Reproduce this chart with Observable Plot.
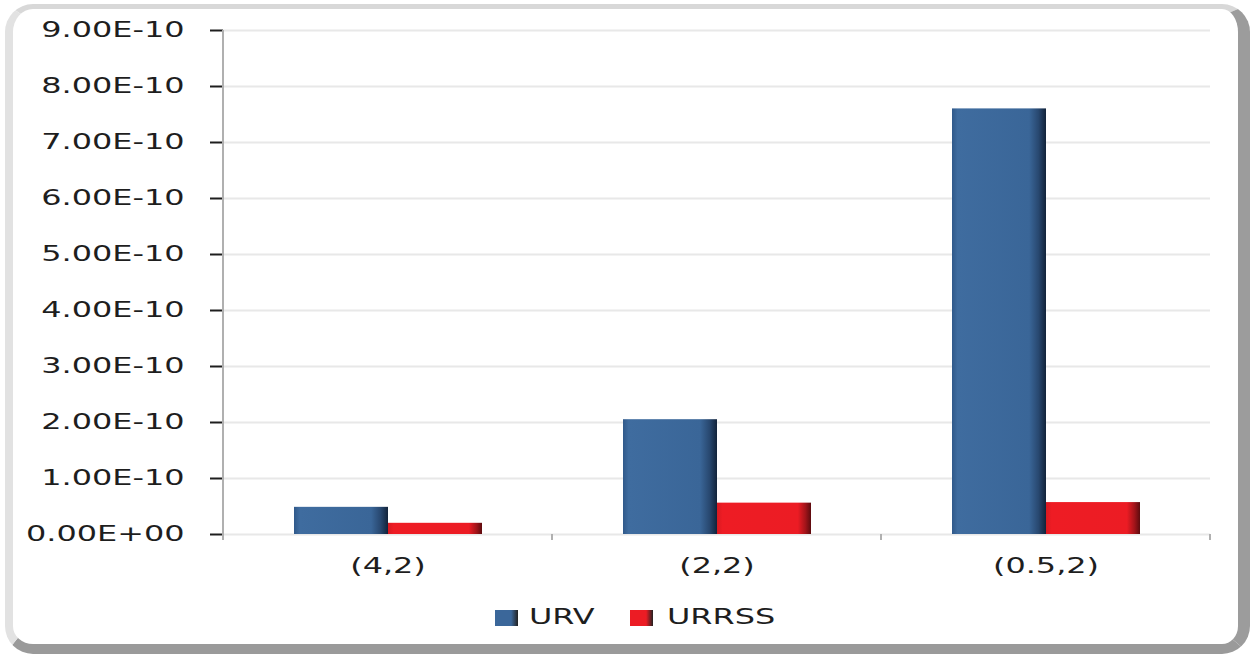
<!DOCTYPE html>
<html><head><meta charset="utf-8">
<script src="https://cdn.jsdelivr.net/npm/d3@7"></script>
<script src="https://cdn.jsdelivr.net/npm/@observablehq/plot@0.6"></script>
<style>
body{margin:0;background:#fff;font-family:"DejaVu Sans",Verdana,sans-serif;}
#wrap{position:relative;width:1255px;height:658px;overflow:hidden;background:#fff;}
#frame{position:absolute;left:5px;top:4px;width:1245px;height:650px;box-sizing:border-box;border-radius:28px;
  border-top:5px solid #d8d8d8;border-left:8px solid #e2e2e2;border-right:12px solid #9c9c9c;border-bottom:10px solid #9a9a9a;}
#chart{position:absolute;left:0;top:0;}
#chart svg [aria-label="y-grid"]{stroke:#cdcdcd;stroke-opacity:1;stroke-width:2px;}
#chart svg [aria-label="y-axis tick"]{stroke:#c4c4c4;stroke-opacity:1;stroke-width:2px;}
#legend{position:absolute;left:0;top:0;width:1255px;height:658px;pointer-events:none;}
.sw{position:absolute;width:23px;height:16px;}
.lt{position:absolute;font-size:21px;line-height:21px;color:#1e1e1e;transform:scaleX(1.52);transform-origin:left center;white-space:nowrap;}
</style></head>
<body>
<svg width="0" height="0" style="position:absolute">
  <defs>
    <linearGradient id="gBlue" x1="0" x2="1" y1="0" y2="0">
      <stop offset="0" stop-color="#30598a"/>
      <stop offset="0.06" stop-color="#3f6c9f"/>
      <stop offset="0.82" stop-color="#3a6698"/>
      <stop offset="0.92" stop-color="#284870"/>
      <stop offset="1" stop-color="#12233a"/>
    </linearGradient>
    <linearGradient id="gRed" x1="0" x2="1" y1="0" y2="0">
      <stop offset="0" stop-color="#d81a21"/>
      <stop offset="0.06" stop-color="#ee1c24"/>
      <stop offset="0.86" stop-color="#ec1c24"/>
      <stop offset="0.94" stop-color="#a3141a"/>
      <stop offset="1" stop-color="#5c0b0e"/>
    </linearGradient>
  </defs>
</svg>
<div id="wrap">
  <div id="frame"></div>
  <div id="chart"></div>
  <div id="legend"></div>
</div>
<script>
const categories = ["(4,2)", "(2,2)", "(0.5,2)"];
const seriesNames = ["URV", "URRSS"];
const urvValues = [0.485e-10, 2.05e-10, 7.6e-10];
const urrssValues = [0.2e-10, 0.56e-10, 0.57e-10];
const yTicks = [0, 1e-10, 2e-10, 3e-10, 4e-10, 5e-10, 6e-10, 7e-10, 8e-10, 9e-10];
const yTickLabels = ["0.00E+00","1.00E-10","2.00E-10","3.00E-10","4.00E-10","5.00E-10","6.00E-10","7.00E-10","8.00E-10","9.00E-10"];
const seriesColors = ["url(#gBlue)", "url(#gRed)"];
const swatchColors = ["#3b679a", "#ec1c24"];

const data = categories.flatMap((c, i) => [
  {cat: c, series: seriesNames[0], value: urvValues[i]},
  {cat: c, series: seriesNames[1], value: urrssValues[i]}
]);

const fmtY = d => {
  let k = yTicks.indexOf(d);
  if (k < 0) k = Math.round(d / 1e-10);
  return yTickLabels[k] ?? "";
};

const plot = Plot.plot({
  width: 1255, height: 658,
  marginLeft: 222, marginRight: 45, marginTop: 30, marginBottom: 124,
  style: {fontFamily: "'DejaVu Sans', Verdana, sans-serif", fontSize: "21px", color: "#1e1e1e", background: "transparent", overflow: "visible"},
  fx: {domain: categories, padding: 0, label: null, axis: "bottom", tickSize: 0, tickPadding: 24},
  x: {domain: seriesNames, paddingInner: 0, paddingOuter: 0.75, axis: null},
  y: {domain: [0, 9e-10], ticks: yTicks, tickFormat: fmtY, grid: true, tickSize: 13, tickPadding: 26, label: null},
  color: {domain: seriesNames, range: seriesColors},
  marks: [
    Plot.barY(data, {fx: "cat", x: "series", y: "value", fill: "series"})
  ]
});
document.getElementById("chart").appendChild(plot);

// axis line and category boundary ticks derived from scales
const svg = d3.select(plot);
const fx = plot.scale("fx"), y = plot.scale("y");
const y0 = y.apply(0), yTop = y.apply(9e-10);
const left = fx.apply(categories[0]);
const bw = fx.bandwidth;
const g = svg.append("g").attr("stroke", "#b0b0b0").attr("stroke-width", 2);
g.append("line").attr("x1", left).attr("x2", left).attr("y1", yTop).attr("y2", y0 + 6);
categories.forEach(c => {
  const xr = fx.apply(c) + bw;
  g.append("line").attr("x1", xr).attr("x2", xr).attr("y1", y0).attr("y2", y0 + 6);
});

// horizontally stretched text as in the reference
const S = 1.52;
svg.selectAll("text").each(function() {
  const t = this;
  const x = +(t.getAttribute("x") || 0), yy = +(t.getAttribute("y") || 0);
  const tr = t.getAttribute("transform") || "";
  t.setAttribute("transform", `${tr} translate(${x},0) scale(${S},1) translate(${-x},0)`);
});

// legend
const leg = document.getElementById("legend");
const legendPos = [{sw: 495, tx: 529}, {sw: 630, tx: 667}];
seriesNames.forEach((s, i) => {
  const sw = document.createElement("div");
  sw.className = "sw";
  sw.style.left = legendPos[i].sw + "px";
  sw.style.top = "610px";
  sw.style.background = `linear-gradient(to right, ${swatchColors[i]} 70%, #222 100%)`;
  leg.appendChild(sw);
  const tx = document.createElement("div");
  tx.className = "lt";
  tx.textContent = s;
  tx.style.left = legendPos[i].tx + "px";
  tx.style.top = "607px";
  leg.appendChild(tx);
});
</script>
</body></html>
